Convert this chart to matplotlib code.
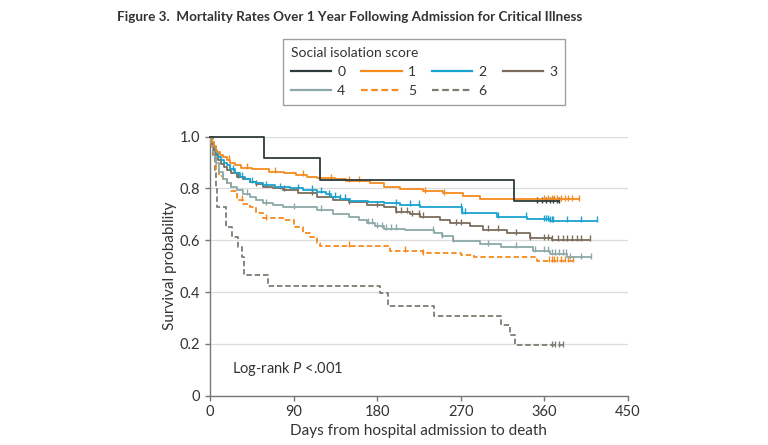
import numpy as np
import matplotlib.pyplot as plt
from matplotlib.lines import Line2D

plt.rcParams['font.family'] = ['Lato', 'DejaVu Sans']
plt.rcParams['mathtext.fontset'] = 'custom'
plt.rcParams['mathtext.it'] = 'Lato:italic'
plt.rcParams['mathtext.rm'] = 'Lato'

# Kaplan-Meier step data (days, survival)
t0 = [0, 58, 118, 328]
s0 = [1.0, 0.917, 0.833, 0.75]
end0 = 376
c0 = [352, 358, 362, 366, 370, 374, 376]

t1 = [0, 2, 4, 6, 8, 11, 14, 18, 22, 27, 33, 45, 64, 80, 93, 105, 115, 135, 147,
      172, 187, 205, 230, 251, 273, 291]
s1 = [1.0, 0.98, 0.965, 0.95, 0.94, 0.93, 0.92, 0.91, 0.90, 0.89, 0.88, 0.874,
      0.865, 0.858, 0.852, 0.846, 0.84, 0.835, 0.829, 0.82, 0.807, 0.798, 0.79,
      0.781, 0.771, 0.758]
end1 = 397
c1 = [20, 40, 70, 100, 130, 150, 160, 232, 252, 360, 364, 368, 371, 374, 378,
      382, 386, 390, 397]

t2 = [0, 2, 4, 6, 9, 12, 15, 18, 22, 27, 32, 38, 43, 50, 57, 70, 86, 100, 115,
      125, 130, 140, 151, 170, 187, 205, 226, 272, 309, 341, 366]
s2 = [1.0, 0.98, 0.96, 0.94, 0.92, 0.91, 0.90, 0.89, 0.875, 0.86, 0.845, 0.835,
      0.826, 0.82, 0.813, 0.805, 0.80, 0.795, 0.788, 0.778, 0.768, 0.76, 0.752,
      0.748, 0.743, 0.738, 0.727, 0.707, 0.691, 0.681, 0.675]
end2 = 417
c2 = [25, 35, 45, 60, 75, 95, 110, 120, 128, 135, 140, 145, 200, 215, 225, 270,
      272, 275, 310, 340, 360, 362, 364, 366, 368, 370, 385, 400, 417]

t3 = [0, 2, 4, 6, 9, 12, 15, 18, 23, 29, 36, 43, 50, 57, 68, 79, 95, 115, 133,
      150, 169, 187, 200, 215, 226, 248, 259, 280, 294, 320, 345, 368]
s3 = [1.0, 0.97, 0.95, 0.93, 0.91, 0.895, 0.882, 0.871, 0.858, 0.846, 0.835,
      0.826, 0.816, 0.807, 0.80, 0.794, 0.782, 0.768, 0.756, 0.746, 0.736, 0.728,
      0.71, 0.70, 0.691, 0.678, 0.666, 0.655, 0.64, 0.627, 0.608, 0.601]
end3 = 409
c3 = [30, 50, 80, 110, 150, 180, 200, 206, 212, 218, 225, 230, 265, 270, 300,
      310, 330, 345, 360, 364, 368, 375, 380, 385, 390, 395, 400, 409]

t4 = [0, 1, 3, 5, 7, 10, 14, 18, 23, 29, 36, 43, 50, 57, 68, 79, 115, 133, 150,
      160, 169, 178, 187, 210, 241, 250, 262, 291, 313, 348, 366, 385]
s4 = [1.0, 0.97, 0.94, 0.92, 0.90, 0.865, 0.835, 0.82, 0.805, 0.794, 0.78,
      0.768, 0.755, 0.743, 0.735, 0.728, 0.717, 0.70, 0.69, 0.68, 0.668, 0.655,
      0.645, 0.638, 0.627, 0.615, 0.598, 0.585, 0.575, 0.56, 0.548, 0.535]
end4 = 411
c4 = [40, 60, 90, 120, 170, 175, 180, 185, 190, 195, 200, 240, 250, 262, 300,
      330, 350, 360, 364, 368, 372, 376, 380, 384, 388, 400, 411]

t5 = [0, 2, 4, 7, 10, 14, 18, 23, 29, 36, 43, 50, 57, 79, 90, 100, 108, 115,
      119, 194, 230, 270, 284, 352]
s5 = [1.0, 0.96, 0.92, 0.87, 0.85, 0.835, 0.82, 0.79, 0.756, 0.74, 0.728, 0.704,
      0.685, 0.678, 0.653, 0.63, 0.614, 0.588, 0.579, 0.559, 0.55, 0.545, 0.534,
      0.521]
end5 = 391
c5 = [35, 60, 150, 210, 230, 365, 368, 371, 374, 378, 382, 386, 391]

t6 = [0, 3, 5, 7, 8, 17, 24, 30, 35, 37, 63, 183, 192, 241, 314, 323, 329]
s6 = [1.0, 0.93, 0.86, 0.80, 0.73, 0.653, 0.614, 0.575, 0.537, 0.466, 0.425,
      0.395, 0.348, 0.309, 0.273, 0.234, 0.195]
end6 = 380
c6 = [368, 372, 376, 380]

labels = ['0', '1', '2', '3', '4', '5', '6']
colors = ['#2e3b3c', '#f58a1f', '#1aa3d0', '#7b6d5c', '#8ca9a7', '#f58a1f', '#7d7d72']
styles = ['-', '-', '-', '-', '-', '--', '--']

series = [(t0, s0, end0, c0), (t1, s1, end1, c1), (t2, s2, end2, c2),
          (t3, s3, end3, c3), (t4, s4, end4, c4), (t5, s5, end5, c5),
          (t6, s6, end6, c6)]

fig = plt.figure(figsize=(7.68, 4.45), dpi=100)
ax = fig.add_axes([210 / 768, 1 - 395.7 / 445, 417.7 / 768, 259 / 445])

for k in range(len(series)):
    t, s, end, cens = series[k]
    tt = np.array(t + [end])
    ss = np.array(s + [s[-1]])
    ls = styles[k]
    kw = dict(dashes=(3, 1.6)) if ls == '--' else {}
    ax.step(tt, ss, where='post', color=colors[k], lw=1.3, zorder=3 + (6 - k) * 0.1,
            clip_on=False, **kw)
    cens = np.array(cens)
    idx = np.searchsorted(np.array(t), cens, side='right') - 1
    ax.plot(cens, np.array(s)[idx] + 0.006, ls='none', marker='|', ms=4.5, mew=1.0,
            color=colors[k], clip_on=False, zorder=3)

ax.set_xlim(0, 450)
ax.set_ylim(0, 1.0)
ax.set_xticks([0, 90, 180, 270, 360, 450])
ax.set_yticks([0, 0.2, 0.4, 0.6, 0.8, 1.0])
ax.set_yticklabels(['0', '0.2', '0.4', '0.6', '0.8', '1.0'])
ax.yaxis.grid(True, color='#dcdcdc', lw=0.9)
ax.set_axisbelow(True)
for sp in ['top', 'right']:
    ax.spines[sp].set_visible(False)
for sp in ['left', 'bottom']:
    ax.spines[sp].set_color('#777777')
    ax.spines[sp].set_linewidth(1.0)
ax.tick_params(colors='#777777', labelcolor='#333333', labelsize=10.5, length=3.5, width=1.0)
ax.set_xlabel('Days from hospital admission to death', fontsize=11, color='#333333', labelpad=3)
ax.set_ylabel('Survival probability', fontsize=11, color='#333333', labelpad=2)

ax.text(0.053, 0.105, r'Log-rank $\it{P}$ <.001', transform=ax.transAxes,
        fontsize=10.5, color='#333333', va='center')

fig.text(117 / 768, 1 - 17 / 445, 'Figure 3.  Mortality Rates Over 1 Year Following Admission for Critical Illness',
         fontsize=9.7, fontweight='bold', color='#333333', va='center', ha='left')

handles = []
for k in range(len(labels)):
    kw = dict(dashes=(3, 1.6)) if styles[k] == '--' else {}
    handles.append(Line2D([], [], color=colors[k], lw=1.6, **kw))
# legend fills by column, so reorder to read row by row
order = [0, 4, 1, 5, 2, 6, 3]
leg = fig.legend([handles[i] for i in order], [labels[i] for i in order],
                 loc='upper left', bbox_to_anchor=(283 / 768, 1 - 39.5 / 445),
                 borderaxespad=0, ncol=4, title='Social isolation score',
                 alignment='left', fontsize=10, title_fontsize=10,
                 handlelength=2.9, handletextpad=0.45, columnspacing=1.15,
                 labelspacing=0.5, fancybox=False, edgecolor='#888888',
                 borderpad=0.55, frameon=True)
leg.get_frame().set_linewidth(1.0)
for txt in leg.get_texts():
    txt.set_color('#333333')
leg.get_title().set_color('#333333')

fig.savefig('out.png', dpi=100)
